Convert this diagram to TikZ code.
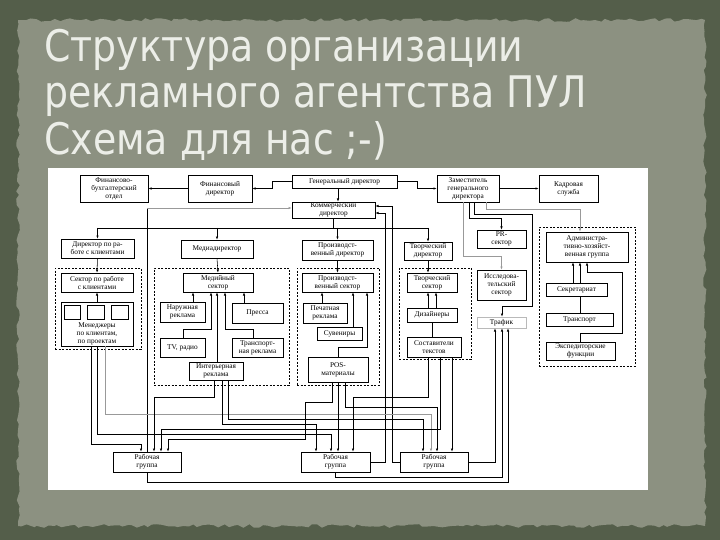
\documentclass[tikz,border=0pt]{standalone}
\usepackage{fontspec}
\setmainfont{Liberation Serif}
\newfontfamily\titlefont[FakeStretch=0.87]{DejaVu Sans}
\usetikzlibrary{arrows.meta,decorations.pathmorphing}
\definecolor{outerbg}{RGB}{84,94,74}
\definecolor{paper}{RGB}{140,145,129}
\definecolor{titlecol}{RGB}{236,238,232}
\newcommand\diagfont{\fontsize{7.3}{8}\selectfont}
\begin{document}
\begin{tikzpicture}[x=1pt,y=-1pt,
  bx/.style={draw, line width=0.6pt, fill=white, inner sep=0pt, align=center, font=\diagfont},
  dbox/.style={draw, dash pattern=on 2pt off 1.5pt, line width=0.5pt, inner sep=0pt},
  ln/.style={line width=0.55pt},
  arr/.style={ln, -{Latex[length=3.2pt,width=2.4pt]}},
  ttl/.style={text=titlecol, font=\titlefont\fontsize{43.5}{48}\selectfont, anchor=base west, inner sep=0pt}]
\useasboundingbox (0,0) rectangle (720,540);
\fill[outerbg] (0,0) rectangle (720,540);
\pgfmathsetseed{7}
\fill[paper, decorate, decoration={random steps, segment length=5pt, amplitude=1.8pt}] (18,20) rectangle (705,526);
% title
\node[ttl] (t1) at (44,62) {Структура организации};
\node[ttl] (t2) at (44,108) {рекламного агентства ПУЛ};
\node[ttl] (t3) at (44,155) {Схема для нас ;-)};
% white panel
\fill[white] (48,168) rectangle (648,490);
% dashed groups
\node[dbox, minimum width=86pt, minimum height=81pt] (dA) at (98,308.5) {};
\node[dbox, minimum width=135pt, minimum height=117pt] (dM) at (221.5,326.5) {};
\node[dbox, minimum width=82pt, minimum height=117pt] (dP) at (338,326.5) {};
\node[dbox, minimum width=72pt, minimum height=91pt] (dT) at (435,313.5) {};
\node[dbox, minimum width=96pt, minimum height=139pt] (dAd) at (587,296.5) {};
% top row
\node[bx, minimum width=68pt, minimum height=27pt] (fin) at (114,188.5) {Финансово-\\бухгалтерский\\отдел};
\node[bx, minimum width=64pt, minimum height=27pt] (findir) at (220,188.5) {Финансовый\\директор};
\node[bx, minimum width=105pt, minimum height=13pt] (gen) at (344.5,181.5) {Генеральный директор};
\node[bx, minimum width=62pt, minimum height=27pt] (zam) at (468,188.5) {Заместитель\\генерального\\директора};
\node[bx, minimum width=59pt, minimum height=27pt] (kadr) at (568.5,188.5) {Кадровая\\служба};
\node[bx, minimum width=83pt, minimum height=16pt] (kom) at (333.5,210) {Коммерческий\\директор};
% directors
\node[bx, minimum width=73pt, minimum height=19pt] (dirkl) at (97.5,248.5) {Директор по ра-\\боте с клиентами};
\node[bx, minimum width=72pt, minimum height=18pt] (media) at (217,249) {Медиадиректор};
\node[bx, minimum width=71pt, minimum height=20pt] (proizd) at (337.5,250) {Производст-\\венный директор};
\node[bx, minimum width=48pt, minimum height=18pt] (tvord) at (428,251) {Творческий\\директор};
\node[bx, minimum width=49pt, minimum height=18pt] (pr) at (501.5,239) {PR-\\сектор};
\node[bx, minimum width=82pt, minimum height=30pt] (admin) at (587,247) {Администра-\\тивно-хозяйст-\\венная группа};
% client group
\node[bx, minimum width=72pt, minimum height=19pt] (sekkl) at (97,282.5) {Сектор по работе\\с клиентами};
\node[bx, minimum width=72pt, minimum height=44pt] (man) at (97,324) {};
\draw[line width=0.6pt] (man.north west) ++(4,4) rectangle ++(16,14);
\draw[line width=0.6pt] (man.north west) ++(27,4) rectangle ++(17,14);
\draw[line width=0.6pt] (man.north west) ++(51,4) rectangle ++(17,14);
\node[font=\diagfont, align=center, inner sep=0pt] (manT) at (97,334) {Менеджеры\\по клиентам,\\по проектам};
% media group
\node[bx, minimum width=70pt, minimum height=19pt] (medsec) at (218,282.5) {Медийный\\сектор};
\node[bx, minimum width=45pt, minimum height=20pt] (nar) at (182.5,312) {Наружная\\реклама};
\node[bx, minimum width=51pt, minimum height=20pt] (press) at (257.5,313) {Пресса};
\node[bx, minimum width=45pt, minimum height=19pt] (tv) at (182.5,347.5) {TV, радио};
\node[bx, minimum width=51pt, minimum height=19pt] (trrek) at (257.5,347.5) {Транспорт-\\ная реклама};
\node[bx, minimum width=54pt, minimum height=18pt] (inter) at (216,371) {Интерьерная\\реклама};
% production group
\node[bx, minimum width=71pt, minimum height=19pt] (prsec) at (337.5,282.5) {Производст-\\венный сектор};
\node[bx, minimum width=44pt, minimum height=20pt] (pech) at (325,313) {Печатная\\реклама};
\node[bx, minimum width=45pt, minimum height=13pt] (suv) at (339.5,333.5) {Сувениры};
\node[bx, minimum width=60pt, minimum height=25pt] (pos) at (338,369.5) {POS-\\материалы};
% creative group
\node[bx, minimum width=50pt, minimum height=19pt] (tsec) at (432,282.5) {Творческий\\сектор};
\node[bx, minimum width=50pt, minimum height=14pt] (diz) at (432,315) {Дизайнеры};
\node[bx, minimum width=54pt, minimum height=20pt] (sost) at (434,347) {Составители\\текстов};
% research, traffic
\node[bx, minimum width=49pt, minimum height=30pt] (issl) at (501.5,285) {Исследова-\\тельский\\сектор};
\node[bx, draw=gray!55, minimum width=49pt, minimum height=11pt] (traf) at (501.5,322.5) {Трафик};
% admin group
\node[bx, minimum width=61pt, minimum height=13pt] (sekr) at (576.5,289.5) {Секретариат};
\node[bx, minimum width=67pt, minimum height=13pt] (transp) at (579.5,319.5) {Транспорт};
\node[bx, minimum width=69pt, minimum height=18pt] (eksp) at (580.5,351) {Экспедиторские\\функции};
% working groups
\node[bx, minimum width=68pt, minimum height=20pt] (g1) at (147,462) {Рабочая\\группа};
\node[bx, minimum width=69pt, minimum height=20pt] (g2) at (335.5,462) {Рабочая\\группа};
\node[bx, minimum width=68pt, minimum height=20pt] (g3) at (434,462) {Рабочая\\группа};
% ---- connectors: top
\draw[arr] (findir.west) -- (fin.east);
\draw[arr] (gen.west) -- (272,181.5) |- (findir.east);
\draw[arr] (gen.east) -- (417,181.5) |- (zam.west);
\draw[arr] (gen.south -| 338,0) -- (kom.north -| 338,0);
\draw[arr] (zam.east) -- (kadr.west);
\draw[ln] (kom.south) -- (333.5,228) coordinate (bus);
\draw[ln] (dirkl.north |- bus) -- (tvord.north |- bus);
\draw[arr] (dirkl.north |- bus) -- (dirkl.north);
\draw[arr] (media.north |- bus) -- (media.north);
\draw[arr] (proizd.north |- bus) -- (proizd.north);
\draw[arr] (tvord.north |- bus) -- (tvord.north);
\draw[arr] (dirkl.south) -- (sekkl.north);
\draw[arr] (media.south) -- (medsec.north);
\draw[arr] (proizd.south) -- (prsec.north);
\draw[arr] (tvord.south) -- (tvord.south |- tsec.north);
\draw[arr] (man.north) -- (sekkl.south);
% media internal
\draw[arr] (nar.north -| 193,0) -- (medsec.south -| 193,0);
\draw[arr] (tv.north -| 183,0) -- (183,329) -| (medsec.south -| 211,0);
\draw[arr] (inter.north -| 217,0) -- (medsec.south -| 217,0);
\draw[arr] (trrek.north -| 253,0) -- (253,329) -| (medsec.south -| 225,0);
\draw[arr] (press.north -| 244,0) -- (medsec.south -| 244,0);
% production internal
\draw[arr] (pech.north -| 322,0) -- (prsec.south -| 322,0);
\draw[arr] (suv.north -| 353,0) -- (prsec.south -| 353,0);
\draw[arr] (pos.north) -- (338,347) -| (prsec.south -| 367,0);
% creative internal
\draw[arr] (diz.north -| 428,0) -- (tsec.south -| 428,0);
\draw[arr] (diz.north -| 436,0) -- (tsec.south -| 436,0);
\draw[ln] (sost.north -| 432,0) -- (diz.south -| 432,0);
% deputy director lines
\draw[arr] (zam.south -| 469,0) |- (501.5,218) -- (pr.north);
\draw[arr, draw=gray!80] (zam.south -| 463,0) |- (501.5,256) -- (issl.north);
\draw[arr] (zam.south -| 474,0) |- (532,214) |- (502,306) -- (traf.north -| 502,0);
\draw[arr, draw=gray!80] (zam.south -| 486,0) |- (580,209) -- (admin.north -| 580,0);
% admin internal
\draw[arr] (sekr.north -| 573,0) -- (admin.south -| 573,0);
\draw[arr] (sekr.north -| 580,0) -- (admin.south -| 580,0);
\draw[ln] (transp.north -| 580,0) -- (sekr.south -| 580,0);
\draw[arr] (eksp.north -| 580,0) -- (580,333) -| (622,272) -| (admin.south -| 587,0);
% feedback to commercial director
\draw[ln] (g1.north) -- (147,208) coordinate (kc);
\draw[arr, draw=gray!80] (kc) -- (kom.west |- kc);
\draw[arr] (g2.east) -| (385,213) -- (kom.east |- 0,213);
\draw[arr] (g3.west) -| (392,206) -- (kom.east |- 0,206);
% loops to traffic
\draw[arr] (g3.east) -| (traf.south -| 495,0);
\draw[arr] (g2.south) -- (335.5,477) -| (traf.south -| 502,0);
\draw[arr] (g1.south) -- (147,482) -| (traf.south -| 508,0);
% lines into working groups
\draw[arr] (man.south -| 91,0) |- (141,444) -- (g1.north -| 141,0);
\draw[arr] (man.south -| 97,0) |- (331,434) -- (g2.north -| 331,0);
\draw[arr, draw=gray!80] (man.south -| 105,0) |- (431,414) -- (g3.north -| 431,0);
\draw[arr] (inter.south -| 214,0) |- (154,397) -- (g1.north -| 154,0);
\draw[arr] (inter.south -| 222,0) |- (316,424) -- (g2.north -| 316,0);
\draw[arr] (inter.south -| 228,0) |- (423,419) -- (g3.north -| 423,0);
\draw[arr] (pos.south -| 332,0) |- (305,402) |- (168,439) -- (g1.north -| 168,0);
\draw[arr] (pos.south -| 338,0) -- (g2.north -| 338,0);
\draw[arr] (pos.south -| 345,0) |- (437,407) -- (g3.north -| 437,0);
\draw[arr] (sost.south -| 428,0) |- (353,397) -- (g2.north -| 353,0);
\draw[arr] (sost.south -| 440,0) |- (161,429) -- (g1.north -| 161,0);
\draw[arr] (sost.south -| 452,0) -- (g3.north -| 452,0);
\end{tikzpicture}
\end{document}
